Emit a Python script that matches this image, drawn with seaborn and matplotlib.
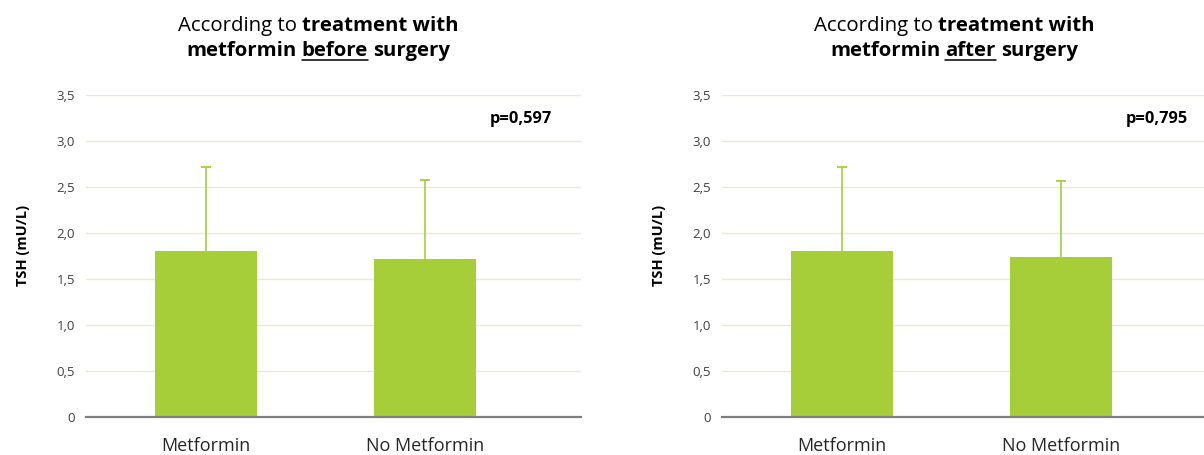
import matplotlib
matplotlib.use("Agg")
import matplotlib.pyplot as plt
import seaborn as sns
import pandas as pd
from matplotlib.transforms import IdentityTransform
from matplotlib.lines import Line2D

# ---- data ----
groups = ["Metformin", "No Metformin"]
tsh_before = [1.80, 1.72]
sd_before = [0.92, 0.86]
tsh_after = [1.80, 1.74]
sd_after = [0.92, 0.82]
p_before = "p=0,597"
p_after = "p=0,795"
ytick_values = [0, 0.5, 1.0, 1.5, 2.0, 2.5, 3.0, 3.5]
ytick_labels = ["0", "0,5", "1,0", "1,5", "2,0", "2,5", "3,0", "3,5"]
title_before = [[("According to", "normal", False), ("treatment with", "bold", False)],
                [("metformin", "bold", False), ("before", "bold", True), ("surgery", "bold", False)]]
title_after = [[("According to", "normal", False), ("treatment with", "bold", False)],
               [("metformin", "bold", False), ("after", "bold", True), ("surgery", "bold", False)]]

FONT = "Open Sans"
BAR = "#A6CE39"
GRID = "#E6EEC8"
BASE = "#7F7F7F"

sns.set_theme(style="white")
plt.rcParams["font.family"] = [FONT, "DejaVu Sans"]

W, H = 1204, 455
fig = plt.figure(figsize=(W / 100, H / 100), dpi=100)
fig.patch.set_facecolor("white")


def px_axes(x0, x1, ytop, ybot):
    return fig.add_axes([x0 / W, 1 - ybot / H, (x1 - x0) / W, (ybot - ytop) / H])


def draw_panel(ax, values, sds, ptext):
    df = pd.DataFrame({"group": groups, "tsh": values})
    sns.barplot(data=df, x="group", y="tsh", color=BAR, saturation=1,
                width=0.463, errorbar=None, ax=ax, zorder=3)
    for p in ax.patches:
        p.set_edgecolor("none")
    # upper-only SD whiskers with a cap at the top
    xs = list(range(len(groups)))
    tops = [v + s for v, s in zip(values, sds)]
    ax.errorbar(xs, values, yerr=[[0] * len(sds), sds],
                fmt="none", ecolor=BAR, elinewidth=1.2, capsize=0, zorder=2)
    ax.plot(xs, tops, linestyle="none", marker="_", markersize=7,
            markeredgewidth=1.3, color=BAR, zorder=2)
    ax.set_ylim(0, 3.5)
    ax.set_xlim(-0.548, 1.713)
    ax.set_yticks(ytick_values)
    ax.set_yticklabels(ytick_labels)
    ax.tick_params(axis="y", length=0, pad=8, labelsize=9.5, labelcolor="#404040")
    ax.tick_params(axis="x", length=0, pad=14.5, labelsize=13, labelcolor="#262626")
    for t in ax.get_yticklabels():
        t.set_fontfamily(FONT)
    for t in ax.get_xticklabels():
        t.set_fontfamily(FONT)
    for v in ytick_values[1:]:
        ax.axhline(v, color=GRID, lw=1.0, zorder=0)
    for s in ["top", "right", "left"]:
        ax.spines[s].set_visible(False)
    ax.spines["bottom"].set_color(BASE)
    ax.spines["bottom"].set_linewidth(1.6)
    ax.spines["bottom"].set_zorder(4)
    ax.set_xlabel("")
    ax.set_ylabel("TSH (mU/L)", fontsize=10.5, fontweight="bold", color="#000000",
                  fontfamily=FONT)
    ax.yaxis.set_label_coords(-0.113, 0.534)
    ax.text(1.58, 3.24, ptext, ha="right", va="center", fontsize=11.8,
            fontweight="bold", fontfamily=FONT, color="#000000")
    ax.grid(False)


renderer = fig.canvas.get_renderer()


def text_width(s, weight, size):
    t = fig.text(0, 0, s, fontsize=size, fontweight=weight, fontfamily=FONT,
                 transform=IdentityTransform())
    w = t.get_window_extent(renderer).width
    t.remove()
    return w


def draw_title_line(segments, cx, baseline, size=14.7):
    gap = text_width("a a", "normal", size) - text_width("aa", "normal", size)
    widths = [text_width(s, w, size) for s, w, _ in segments]
    total = sum(widths) + gap * (len(segments) - 1)
    x = cx - total / 2
    for (s, w, ul), wd in zip(segments, widths):
        fig.text(x, H - baseline, s, fontsize=size, fontweight=w, fontfamily=FONT,
                 ha="left", va="baseline", color="#000000",
                 transform=IdentityTransform())
        if ul:
            fig.add_artist(Line2D([x, x + wd], [H - baseline - 4, H - baseline - 4],
                                  color="#000000", lw=1.1,
                                  transform=IdentityTransform()))
        x += wd + gap


ax1 = px_axes(86, 581, 95, 417)
draw_panel(ax1, tsh_before, sd_before, p_before)
ax2 = px_axes(722, 1217, 95, 417)
draw_panel(ax2, tsh_after, sd_after, p_after)

for lines, cx in [(title_before, 318), (title_after, 954)]:
    draw_title_line(lines[0], cx, 31)
    draw_title_line(lines[1], cx, 56)

fig.savefig("out.png", dpi=100, facecolor="white")
